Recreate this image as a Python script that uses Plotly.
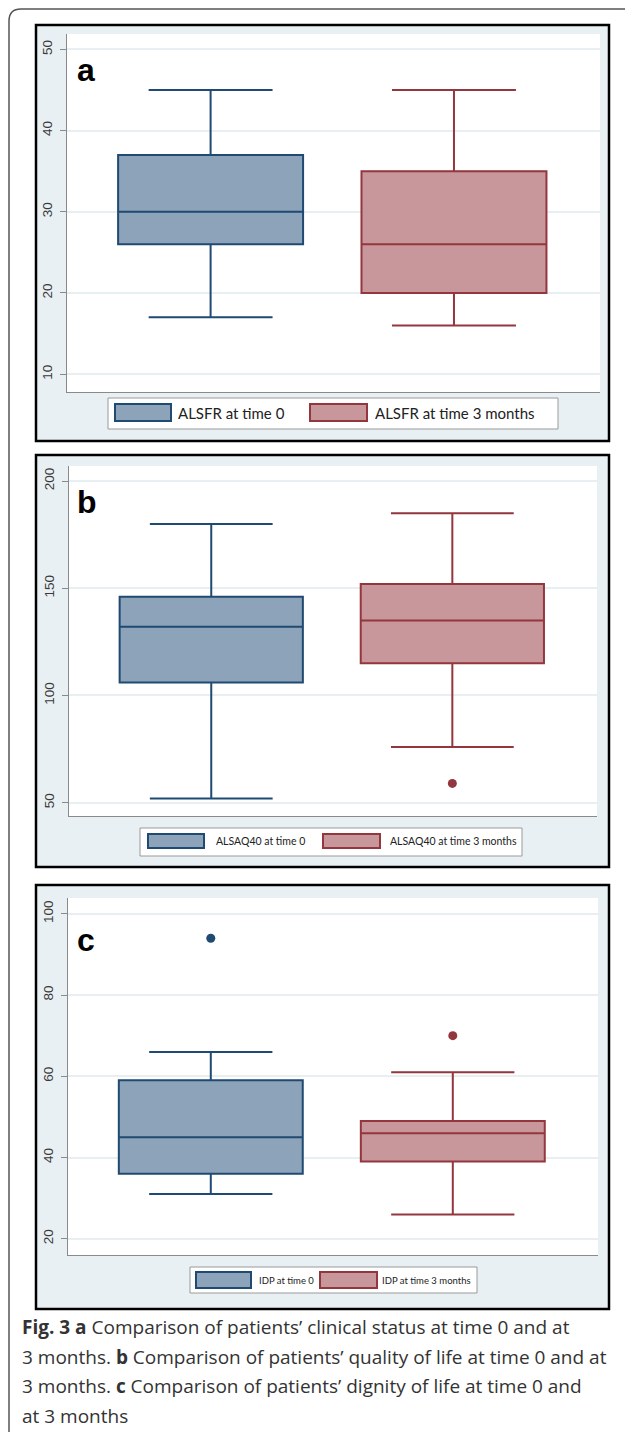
import plotly.graph_objects as go

W, H = 625, 1432

# ---------------- data ----------------
cats = [0, 1]
a_labels = ["ALSFR at time 0", "ALSFR at time 3 months"]
a_lower = [17, 16]
a_q1 = [26, 20]
a_median = [30, 26]
a_q3 = [37, 35]
a_upper = [45, 45]

b_labels = ["ALSAQ40 at time 0", "ALSAQ40 at time 3 months"]
b_lower = [52, 76]
b_q1 = [106, 115]
b_median = [132, 135]
b_q3 = [146, 152]
b_upper = [180, 185]
b_out_blue = []
b_out_red = [59]

c_labels = ["IDP at time 0", "IDP at time 3 months"]
c_lower = [31, 26]
c_q1 = [36, 39]
c_median = [45, 46]
c_q3 = [59, 49]
c_upper = [66, 61]
c_out_blue = [94]
c_out_red = [70]

a_ticks = [10, 20, 30, 40, 50]
b_ticks = [50, 100, 150, 200]
c_ticks = [20, 40, 60, 80, 100]

caption_lines = [
    "<b>Fig. 3 a</b> Comparison of patients’ clinical status at time 0 and at",
    "3 months. <b>b</b> Comparison of patients’ quality of life at time 0 and at",
    "3 months. <b>c</b> Comparison of patients’ dignity of life at time 0 and",
    "at 3 months",
]

# ---------------- style ----------------
BLUE_LINE = "#1f4a72"
BLUE_FILL = "#8ca3b9"
RED_LINE = "#93363d"
RED_FILL = "#c8979b"
BG = "#e9f0f3"
GRID = "#e8eff2"


def X(px):
    return px / W


def Y(py):
    return 1 - py / H


fig = go.Figure()
shapes = []
annotations = []

# outer rounded frame
r = 12
shapes.append(dict(type="path", xref="paper", yref="paper",
                   path=f"M {X(9)} {Y(1440)} L {X(9)} {Y(9 + r)} Q {X(9)} {Y(9)} {X(9 + r)} {Y(9)} L {X(640)} {Y(9)}",
                   line=dict(color="#555555", width=1.5), layer="below"))

panels = [
    dict(name="a", frame=(36, 25, 609, 441), plot=(67, 34, 600, 392), rng=[7.8, 51.9],
         ticks=a_ticks, lower=a_lower, q1=a_q1, med=a_median, q3=a_q3, upper=a_upper,
         out_blue=[], out_red=[], labels=a_labels, letter_y=70,
         legend=dict(box=(108, 398, 558, 429), s1=(115, 171), s2=(310, 367), sy=(404, 421),
                     t1=176, t2=373, fs=15)),
    dict(name="b", frame=(36, 455, 609, 867), plot=(69, 466, 597, 816), rng=[43.8, 207],
         ticks=b_ticks, lower=b_lower, q1=b_q1, med=b_median, q3=b_q3, upper=b_upper,
         out_blue=b_out_blue, out_red=b_out_red, labels=b_labels, letter_y=502,
         legend=dict(box=(140, 828, 522, 856), s1=(148, 204), s2=(323, 380), sy=(834, 848),
                     t1=214, t2=388, fs=10.5)),
    dict(name="c", frame=(36, 885, 609, 1309), plot=(68, 898, 598, 1255), rng=[16, 103.9],
         ticks=c_ticks, lower=c_lower, q1=c_q1, med=c_median, q3=c_q3, upper=c_upper,
         out_blue=c_out_blue, out_red=c_out_red, labels=c_labels, letter_y=940,
         legend=dict(box=(190, 1267, 477, 1293), s1=(196, 251), s2=(320, 377), sy=(1272, 1288),
                     t1=257, t2=380, fs=9.5)),
]

for i, p in enumerate(panels):
    ax = "" if i == 0 else str(i + 1)
    xa, ya = "x" + ax, "y" + ax
    fx0, fy0, fx1, fy1 = p["frame"]
    px0, py0, px1, py1 = p["plot"]
    # panel background + frame
    shapes.append(dict(type="rect", xref="paper", yref="paper",
                       x0=X(fx0), x1=X(fx1), y0=Y(fy1), y1=Y(fy0),
                       fillcolor=BG, line=dict(color="black", width=2.5), layer="below"))
    # white plot region
    shapes.append(dict(type="rect", xref="paper", yref="paper",
                       x0=X(px0), x1=X(px1), y0=Y(py1), y1=Y(py0),
                       fillcolor="white", line=dict(width=0), layer="below"))
    fig.layout["xaxis" + ax] = dict(domain=[X(px0), X(px1)], range=[-0.59, 1.6],
                                    anchor=ya, showticklabels=False, ticks="",
                                    showgrid=False, zeroline=False,
                                    showline=True, linecolor="#8a8a8a", linewidth=1)
    fig.layout["yaxis" + ax] = dict(domain=[Y(py1), Y(py0)], range=p["rng"],
                                    anchor=xa, tickvals=p["ticks"], tickangle=-90,
                                    ticks="outside", ticklen=6, tickcolor="#8a8a8a",
                                    ticklabelstandoff=3,
                                    tickfont=dict(family="Liberation Sans, Arial", size=13.5, color="#3a3a3a"),
                                    showgrid=True, gridcolor=GRID, gridwidth=1.5,
                                    zeroline=False, showline=True, linecolor="#8a8a8a",
                                    linewidth=1, layer="below traces")
    for j, (lc, fc) in enumerate([(BLUE_LINE, BLUE_FILL), (RED_LINE, RED_FILL)]):
        fig.add_trace(go.Box(x=[cats[j]], q1=[p["q1"][j]], median=[p["med"][j]],
                             q3=[p["q3"][j]], lowerfence=[p["lower"][j]],
                             upperfence=[p["upper"][j]], width=0.76, whiskerwidth=0.67,
                             fillcolor=fc, line=dict(color=lc, width=2),
                             boxpoints=False, showlegend=False, name=p["labels"][j],
                             xaxis=xa, yaxis=ya))
    for j, (outs, lc) in enumerate([(p["out_blue"], BLUE_LINE), (p["out_red"], RED_LINE)]):
        if outs:
            fig.add_trace(go.Scatter(x=[cats[j]] * len(outs), y=outs, mode="markers",
                                     marker=dict(color=lc, size=9), showlegend=False,
                                     xaxis=xa, yaxis=ya))
    # panel letter
    annotations.append(dict(xref="paper", yref="paper", x=X(75), y=Y(p["letter_y"]),
                            xanchor="left", yanchor="middle", text=f"<b>{p['name']}</b>",
                            showarrow=False,
                            font=dict(family="Liberation Sans, Arial", size=32, color="black")))
    # legend
    lg = p["legend"]
    bx0, by0, bx1, by1 = lg["box"]
    shapes.append(dict(type="rect", xref="paper", yref="paper",
                       x0=X(bx0), x1=X(bx1), y0=Y(by1), y1=Y(by0),
                       fillcolor="white", line=dict(color="#9a9a9a", width=1)))
    sy0, sy1 = lg["sy"]
    for (s0, s1), lc, fc in [(lg["s1"], BLUE_LINE, BLUE_FILL), (lg["s2"], RED_LINE, RED_FILL)]:
        shapes.append(dict(type="rect", xref="paper", yref="paper",
                           x0=X(s0), x1=X(s1), y0=Y(sy1), y1=Y(sy0),
                           fillcolor=fc, line=dict(color=lc, width=2)))
    for tx, label in [(lg["t1"], p["labels"][0]), (lg["t2"], p["labels"][1])]:
        annotations.append(dict(xref="paper", yref="paper", x=X(tx), y=Y((sy0 + sy1) / 2),
                                xanchor="left", yanchor="middle", text=label, showarrow=False,
                                font=dict(family="Lato, Carlito, sans-serif", size=lg["fs"],
                                          color="#222222")))

# caption
for k, line in enumerate(caption_lines):
    annotations.append(dict(xref="paper", yref="paper", x=X(20), y=Y(1327 + k * 29.5),
                            xanchor="left", yanchor="middle", text=line, showarrow=False,
                            font=dict(family="Open Sans, Noto Sans", size=19, color="#333333")))

fig.update_layout(width=W, height=H, margin=dict(l=0, r=0, t=0, b=0),
                  paper_bgcolor="white", plot_bgcolor="rgba(0,0,0,0)",
                  shapes=shapes, annotations=annotations, showlegend=False)

fig.write_html("out.html", config={"displayModeBar": False},
               post_script="document.body.style.margin='0px';document.body.style.overflow='hidden';")
